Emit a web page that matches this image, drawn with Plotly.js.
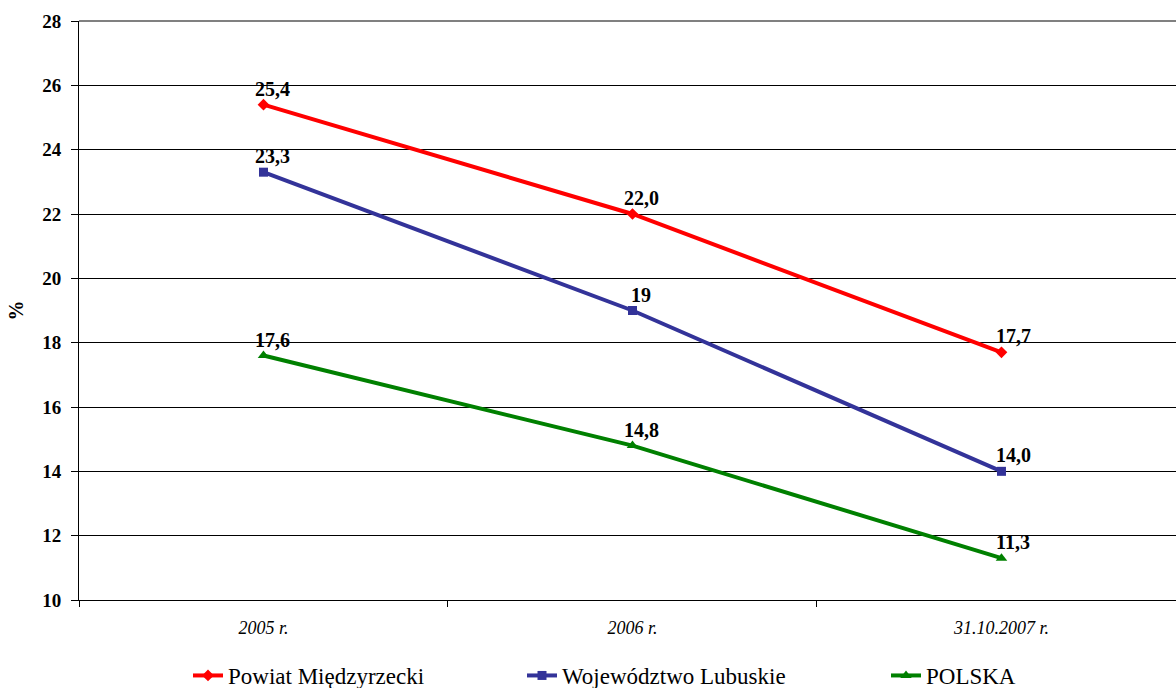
<!DOCTYPE html>
<html><head><meta charset="utf-8">
<script src="https://cdn.plot.ly/plotly-3.0.1.min.js"></script>
<style>html,body{margin:0;padding:0;background:#fff;overflow:hidden}#chart{width:1176px;height:700px}</style>
</head><body><div id="chart"></div>
<script>
const categories = ["2005 r.", "2006 r.", "31.10.2007 r."];
const seriesNames = ["Powiat Międzyrzecki", "Województwo Lubuskie", "POLSKA"];
const powiat = [25.4, 22.0, 17.7];
const wojewodztwo = [23.3, 19, 14.0];
const polska = [17.6, 14.8, 11.3];
const powiatLabels = ["25,4", "22,0", "17,7"];
const wojewodztwoLabels = ["23,3", "19", "14,0"];
const polskaLabels = ["17,6", "14,8", "11,3"];
const yTicks = [10, 12, 14, 16, 18, 20, 22, 24, 26, 28];

const FONT = "Liberation Serif";
const colors = ["#FF0000", "#333399", "#008000"];
const symbols = ["diamond", "square", "triangle-up"];
const sizes = [9, 9, 10];
const values = [powiat, wojewodztwo, polska];
const labels = [powiatLabels, wojewodztwoLabels, polskaLabels];
const legendIds = ["legend", "legend2", "legend3"];
const legendX = [188, 522, 886];

const traces = values.map((v, i) => ({
  type: "scatter", mode: "lines+markers",
  x: categories, y: v, name: seriesNames[i],
  line: {color: colors[i], width: 4},
  marker: {color: colors[i], symbol: symbols[i], size: sizes[i]},
  legend: legendIds[i], cliponaxis: false
}));

const annotations = [];
values.forEach((v, i) => {
  v.forEach((val, j) => {
    annotations.push({
      x: categories[j], y: val, xref: "x", yref: "y",
      text: labels[i][j], showarrow: false,
      xanchor: "center", yanchor: "bottom",
      xshift: (j === 2 ? 12 : 9), yshift: 3,
      font: {family: FONT, size: 20, color: "#000", weight: "bold"}
    });
  });
});

const legendBase = (x) => ({
  orientation: "h", xref: "container", yref: "container",
  x: x / 1176, y: 3 / 700, xanchor: "left", yanchor: "bottom",
  font: {family: FONT, size: 23, color: "#000"},
  bgcolor: "rgba(0,0,0,0)", borderwidth: 0, itemwidth: 30, tracegroupgap: 0
});

const layout = {
  width: 1176, height: 700,
  font: {family: FONT, color: "#000"},
  margin: {l: 79, r: 0, t: 21, b: 100},
  paper_bgcolor: "#fff", plot_bgcolor: "#fff",
  showlegend: true,
  legend: legendBase(legendX[0]),
  legend2: legendBase(legendX[1]),
  legend3: legendBase(legendX[2]),
  xaxis: {
    type: "category", range: [-0.5, 2.473],
    tickson: "boundaries", ticks: "outside", ticklen: 6, tickcolor: "#000",
    ticklabelstandoff: 11,
    showgrid: false, showline: true, linecolor: "#000", linewidth: 1,
    tickfont: {family: FONT, size: 18, color: "#000", style: "italic"},
    zeroline: false
  },
  yaxis: {
    range: [10, 28], tickvals: yTicks, ticktext: yTicks.map(String),
    ticks: "outside", ticklen: 7, tickcolor: "#000", ticklabelstandoff: 6,
    showgrid: true, gridcolor: "#000", gridwidth: 1,
    showline: true, linecolor: "#000", linewidth: 1, zeroline: false,
    tickfont: {family: FONT, size: 19, color: "#000", weight: "bold"},
    title: {text: "%", standoff: 13, font: {family: FONT, size: 20, color: "#000", weight: "bold"}}
  },
  shapes: [{type: "line", xref: "paper", yref: "paper", x0: 0, x1: 1, y0: 1, y1: 1, line: {color: "#808080", width: 2}}],
  annotations: annotations
};

Plotly.newPlot("chart", traces, layout, {displayModeBar: false, staticPlot: true});
</script></body></html>
